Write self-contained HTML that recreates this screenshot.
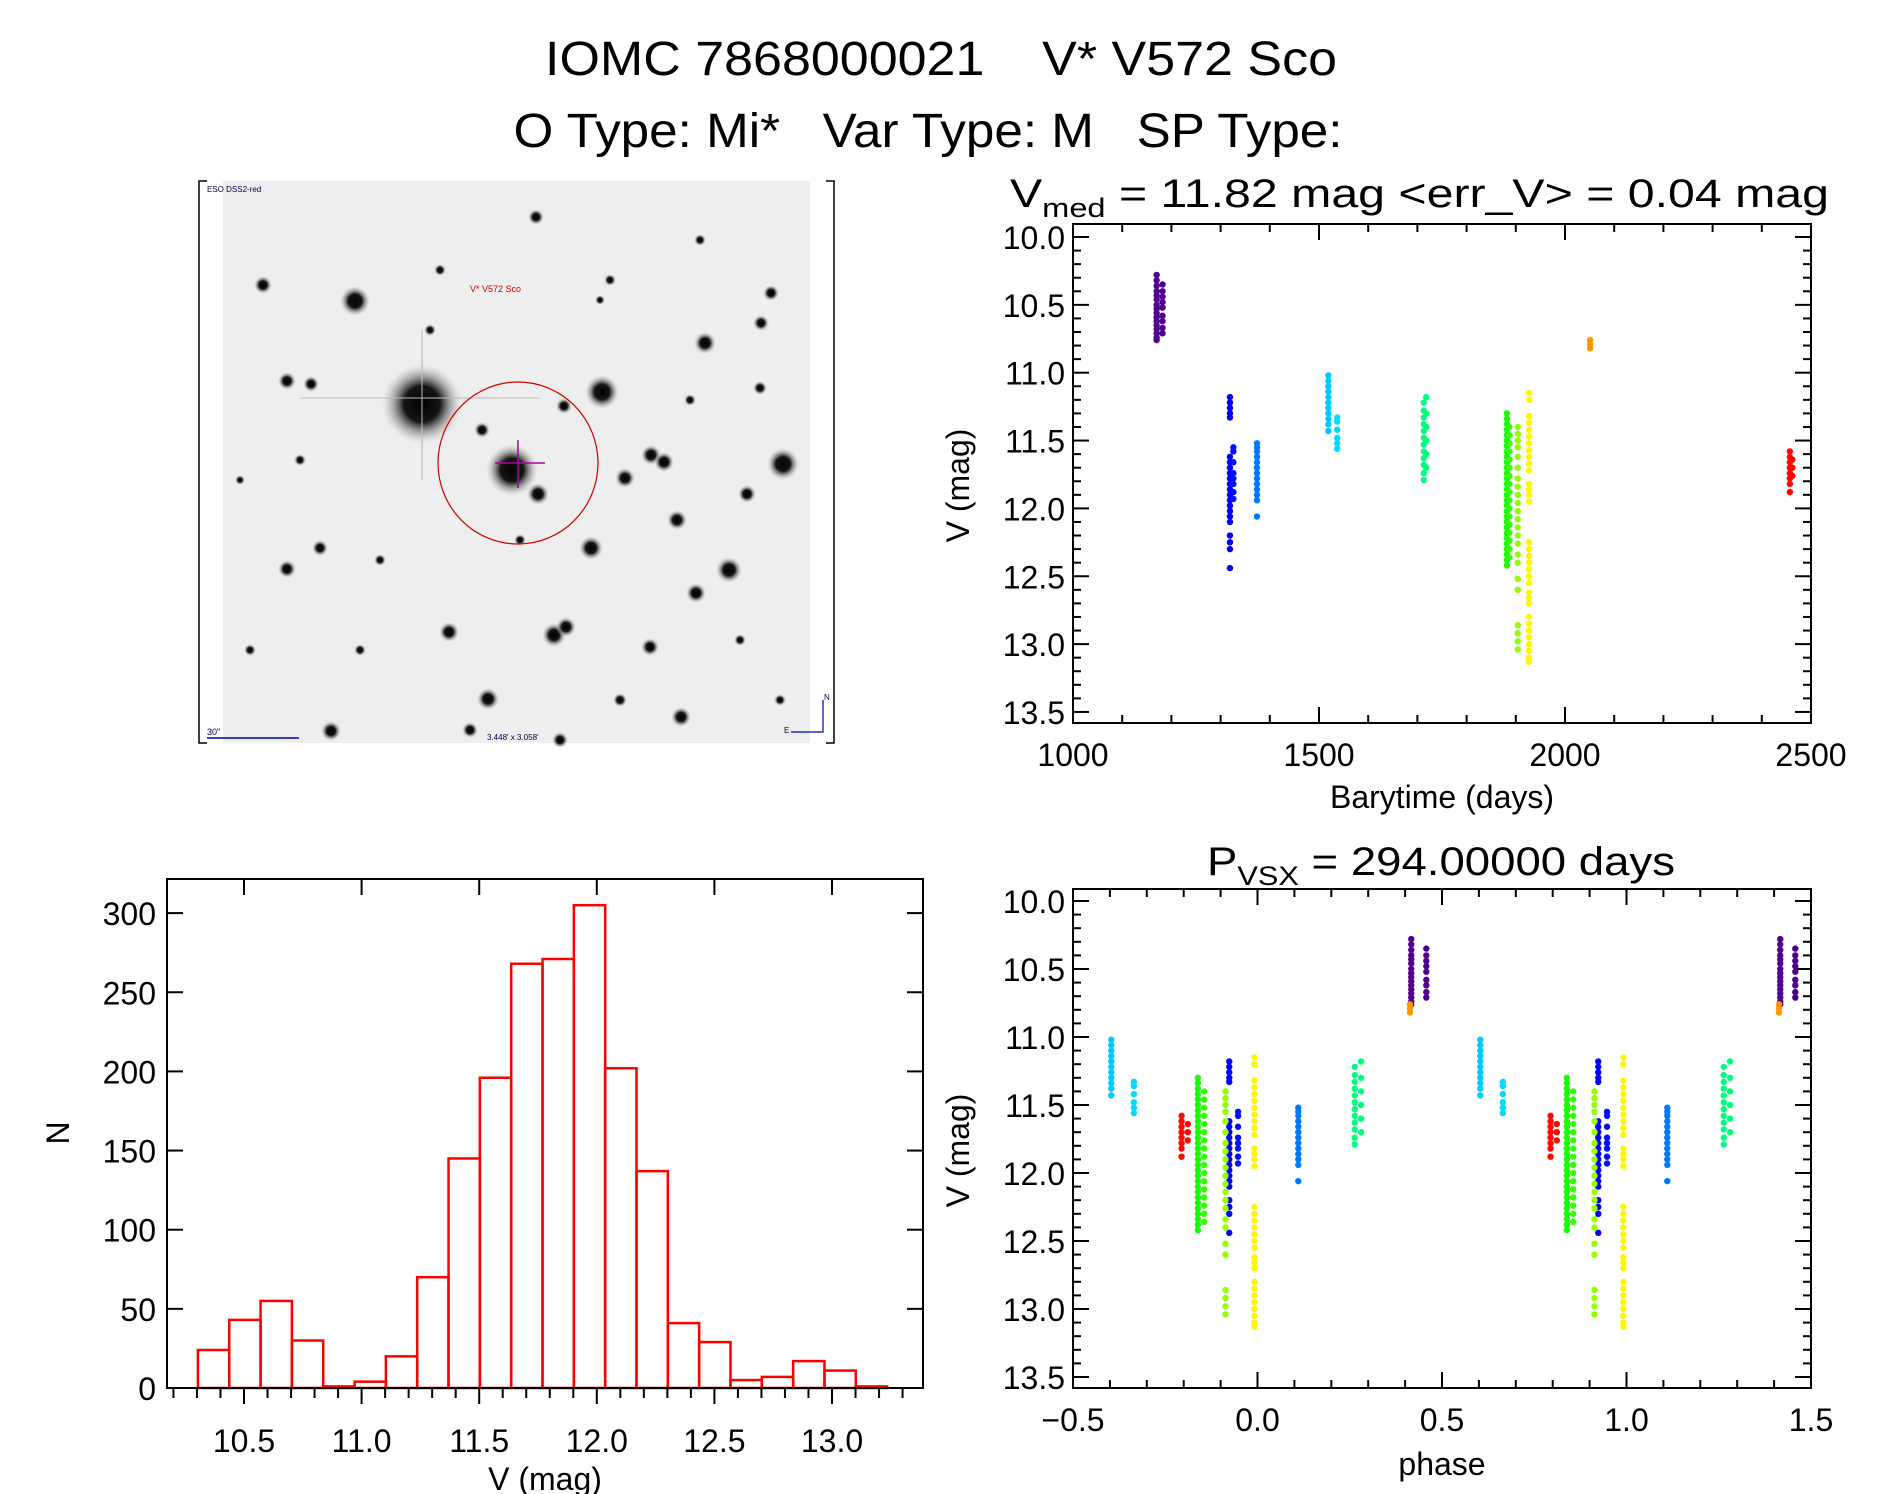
<!DOCTYPE html>
<html><head><meta charset="utf-8"><style>
html,body{margin:0;padding:0;background:#fff;}
svg{display:block;font-family:"Liberation Sans",sans-serif;}
text{white-space:pre;}
</style></head><body>
<svg id="fig" width="1889" height="1494" viewBox="0 0 1889 1494" xmlns="http://www.w3.org/2000/svg" xml:space="preserve">
<defs>
<radialGradient id="star"><stop offset="0" stop-color="#000"/><stop offset="0.45" stop-color="#151515"/><stop offset="1" stop-color="#bbb" stop-opacity="0"/></radialGradient>
</defs>
<text x="941" y="75" font-size="48" text-anchor="middle" textLength="792" lengthAdjust="spacingAndGlyphs">IOMC 7868000021    V* V572 Sco</text>
<text x="928" y="147" font-size="48" text-anchor="middle" textLength="829" lengthAdjust="spacingAndGlyphs">O Type: Mi*   Var Type: M   SP Type:</text>
<g id="img"></g>
<g id="lc"></g>
<g id="ph"></g>
<g id="hist"></g>
</svg>
<script>
// ---- light curve data (barytime days, V mag) ----
const obsTimes = [1170,1182,1319,1326,1374,1519,1537,1713,1718,1882,1887,1904,1927,2051,2457,2462];
const obsMags = [
 [10.28,10.32,10.36,10.40,10.43,10.46,10.50,10.53,10.56,10.59,10.62,10.65,10.68,10.71,10.74,10.76],
 [10.35,10.40,10.44,10.48,10.52,10.58,10.62,10.67,10.71],
 [11.18,11.22,11.26,11.30,11.33,11.62,11.66,11.70,11.74,11.78,11.82,11.86,11.90,11.94,11.98,12.02,12.06,12.10,12.20,12.25,12.30,12.44],
 [11.55,11.58,11.66,11.74,11.78,11.82,11.88,11.93],
 [11.52,11.55,11.58,11.62,11.66,11.70,11.74,11.78,11.82,11.86,11.90,11.94,12.06],
 [11.02,11.06,11.10,11.14,11.18,11.22,11.26,11.30,11.34,11.38,11.43],
 [11.33,11.36,11.42,11.48,11.52,11.56],
 [11.22,11.28,11.33,11.38,11.43,11.48,11.53,11.58,11.63,11.68,11.74,11.79],
 [11.18,11.30,11.40,11.50,11.60,11.70],
 [11.30,11.34,11.38,11.42,11.46,11.50,11.54,11.58,11.62,11.66,11.70,11.74,11.78,11.82,11.86,11.90,11.94,11.98,12.02,12.06,12.10,12.14,12.18,12.22,12.26,12.30,12.34,12.38,12.42],
 [11.40,11.46,11.52,11.58,11.64,11.70,11.76,11.82,11.88,11.94,12.00,12.06,12.12,12.18,12.24,12.30,12.36],
 [11.40,11.45,11.50,11.55,11.62,11.70,11.78,11.84,11.90,11.96,12.02,12.08,12.14,12.20,12.26,12.34,12.40,12.52,12.60,12.86,12.92,12.98,13.04],
 [11.15,11.20,11.32,11.37,11.42,11.47,11.52,11.57,11.62,11.67,11.72,11.82,11.86,11.90,11.95,12.25,12.30,12.35,12.40,12.45,12.50,12.55,12.62,12.66,12.70,12.80,12.85,12.90,12.95,13.00,13.05,13.10,13.13],
 [10.76,10.79,10.82],
 [11.58,11.62,11.66,11.70,11.74,11.78,11.82,11.88],
 [11.64,11.70,11.76]
];
const period = 294.0;
const epoch = 1047.5;
// ---- histogram data ----
const histStart = 10.304;
const histWidth = 0.1332;
const histCounts = [24,43,55,30,1,4,20,70,145,196,268,271,305,202,137,41,29,5,7,17,11,1];
const histYTicks = [0,50,100,150,200,250,300];
const histXTicks = [10.5,11.0,11.5,12.0,12.5,13.0];
const lcXTicks = [1000,1500,2000,2500];
const magTicks = [10.0,10.5,11.0,11.5,12.0,12.5,13.0,13.5];
const phaseTicks = [-0.5,0.0,0.5,1.0,1.5];

const NS="http://www.w3.org/2000/svg";
function el(tag,attrs,parent,txt){const e=document.createElementNS(NS,tag);for(const k in attrs)e.setAttribute(k,attrs[k]);if(txt!==undefined)e.textContent=txt;parent.appendChild(e);return e;}

const hueT=[1170,1319,1374,1520,1713,1882,1904,1927,2051,2457];
const hueV=[275,240,212,192,150,115,85,58,35,2];
function colorFor(t){
  let h=hueV[hueV.length-1];
  for(let i=0;i<hueT.length-1;i++){ if(t<=hueT[i+1]){const f=Math.max(0,(t-hueT[i])/(hueT[i+1]-hueT[i]));h=hueV[i]+f*(hueV[i+1]-hueV[i]);break;} }
  const l = t<1250 ? 28 : 50;
  return `hsl(${h},100%,${l}%)`;
}

function frame(g,x0,y0,x1,y1){
  const r=el('rect',{x:x0,y:y0,width:x1-x0,height:y1-y0,fill:'none',stroke:'#000','stroke-width':2},g);
  
  
}
function tick(g,x1,y1,x2,y2){el('line',{x1:x1,y1:y1,x2:x2,y2:y2,stroke:'#000','stroke-width':2},g);}

function magPanel(g,box,xmin,xmax,xmajor,xminor,xTicks,xfmt,sx,sy,xlabel,xlabelY){
  const [x0,y0,x1,y1]=box;
  frame(g,x0,y0,x1,y1);
  for(let v=xmin;v<=xmax+1e-9;v+=xminor){
    const x=sx(v);const maj=Math.abs(v/xmajor-Math.round(v/xmajor))<1e-6;const L=maj?16:8;
    tick(g,x,y1,x,y1-L);tick(g,x,y0,x,y0+L);
  }
  for(let m=9.9;m<=13.58;m+=0.1){
    const mm=Math.round(m*10)/10;const y=sy(mm);if(y<y0||y>y1)continue;
    const maj=Math.abs(mm*2-Math.round(mm*2))<1e-6;const L=maj?16:8;
    tick(g,x0,y,x0+L,y);tick(g,x1,y,x1-L,y);
  }
  xTicks.forEach(v=>{const t=el('text',{x:sx(v),y:y1+43,'font-size':32,'text-anchor':'middle'},g,xfmt(v));
    
    });
  magTicks.forEach(v=>{const t=el('text',{x:x0-8,y:sy(v)+12,'font-size':32,'text-anchor':'end'},g,v.toFixed(1));
    
    });
  const xl=el('text',{x:(x0+x1)/2,y:xlabelY,'font-size':32,'text-anchor':'middle'},g,xlabel);
  
  
  const yl=el('text',{x:0,y:0,'font-size':32,'text-anchor':'middle',transform:`translate(969,${(y0+y1)/2+12}) rotate(-90)`},g,'V (mag)');
  
  
}

// ---- light curve ----
(function(){
  const g=document.getElementById('lc');
  const sx=t=>1073+(t-1000)*738/1500;
  const sy=m=>237+(m-10)*135.7;
  const tt=el('text',{x:1010,y:207,'font-size':40},g);
  
  
  el('tspan',{},tt,'V');el('tspan',{'font-size':27,dy:10},tt,'med');
  el('tspan',{dy:-10},tt,' = 11.82 mag <err_V> = 0.04 mag');
  tt.setAttribute('textLength','819');tt.setAttribute('lengthAdjust','spacingAndGlyphs');
  magPanel(g,[1073,224,1811,723],1000,2500,500,100,lcXTicks,v=>String(v),sx,sy,'Barytime (days)',808);
  obsTimes.forEach((t,i)=>{obsMags[i].forEach(m=>{
    const c=el('circle',{cx:sx(t),cy:sy(m),r:3.2,fill:colorFor(t)},g);
    
    
  });});
})();

// ---- phase plot ----
(function(){
  const g=document.getElementById('ph');
  const sx=p=>1073+(p+0.5)*738/2;
  const sy=m=>901+(m-10)*136;
  const tt=el('text',{x:1207,y:875,'font-size':40},g);
  
  
  el('tspan',{},tt,'P');el('tspan',{'font-size':27,dy:10},tt,'VSX');
  el('tspan',{dy:-10},tt,' = 294.00000 days');
  tt.setAttribute('textLength','468');tt.setAttribute('lengthAdjust','spacingAndGlyphs');
  magPanel(g,[1073,889,1811,1388],-0.5,1.5,0.5,0.1,phaseTicks,v=>(v<0?'\u22120.5':v.toFixed(1)),sx,sy,'phase',1475);
  obsTimes.forEach((t,i)=>{
    let ph=((t-epoch)/period)%1;if(ph<0)ph+=1;
    [ph-1,ph,ph+1].forEach(p=>{ if(p<-0.5||p>1.5)return;
      obsMags[i].forEach(m=>{
        const c=el('circle',{cx:sx(p),cy:sy(m),r:3.2,fill:colorFor(t)},g);
        
        
      });
    });
  });
})();

// ---- histogram ----
(function(){
  const g=document.getElementById('hist');
  const sx=v=>244+(v-10.5)*235.2;
  const sy=n=>1388-n*1.583;
  const x0=167,y0=879,x1=923,y1=1388;
  histCounts.forEach((n,i)=>{
    const a=sx(histStart+i*histWidth),b=sx(histStart+(i+1)*histWidth);
    const r=el('rect',{x:a,y:sy(n),width:b-a,height:y1-sy(n),fill:'none',stroke:'#f00','stroke-width':2.5},g);
    
    
  });
  frame(g,x0,y0,x1,y1);
  for(let v=10.2;v<=13.35;v+=0.1){const vv=Math.round(v*10)/10;const x=sx(vv);const maj=Math.abs(vv*2-Math.round(vv*2))<1e-6;
    tick(g,x,y1,x,y1+(maj?16:10));
    if(maj)tick(g,x,y0,x,y0+16);}
  histYTicks.forEach(n=>{const y=sy(n);tick(g,x0,y,x0+16,y);tick(g,x1,y,x1-16,y);
    const t=el('text',{x:156,y:y+12,'font-size':32,'text-anchor':'end'},g,String(n));
    
    });
  histXTicks.forEach(v=>{const t=el('text',{x:sx(v),y:1452,'font-size':32,'text-anchor':'middle'},g,v.toFixed(1));
    
    });
  const xl=el('text',{x:545,y:1490,'font-size':32,'text-anchor':'middle'},g,'V (mag)');
  
  
  const yl=el('text',{x:0,y:0,'font-size':32,'text-anchor':'middle',transform:'translate(69,1133) rotate(-90)'},g,'N');
  
  
})();

// ---- sky image ----
(function(){
  const g=document.getElementById('img');
  el('rect',{x:223,y:181,width:587,height:562,fill:'#eeeeee'},g);
  const stars=[[422,404,40],[512,470,26],[602,392,17],[355,301,15],[783,464,16],[729,570,13],[705,343,11],[538,494,11],[651,455,10],[664,462,10],[625,478,10],[677,520,10],[591,548,12],[696,593,10],[449,632,10],[554,635,12],[566,627,10],[650,647,9],[488,699,11],[681,717,10],[331,731,10],[287,569,9],[320,548,8],[263,285,9],[287,381,9],[311,384,8],[536,217,8],[761,323,8],[771,293,8],[747,494,9],[482,430,8],[564,406,8],[760,388,7],[440,270,6],[300,460,6],[250,650,6],[610,280,6],[700,240,6],[520,540,6],[380,560,6],[620,700,7],[740,640,6],[470,730,8],[560,740,8],[780,700,6],[240,480,5],[360,650,6],[690,400,6],[600,300,5],[430,330,6]];
  stars.forEach(s=>{el('circle',{cx:s[0],cy:s[1],r:s[2],fill:'url(#star)'},g);});
  el('line',{x1:300,y1:398,x2:540,y2:398,stroke:'#bbb','stroke-width':2,opacity:0.5},g);
  el('line',{x1:422,y1:330,x2:422,y2:480,stroke:'#bbb','stroke-width':2,opacity:0.5},g);
  el('ellipse',{cx:518,cy:463,rx:80,ry:81,fill:'none',stroke:'#c00','stroke-width':1.2},g);
  el('line',{x1:495,y1:463,x2:545,y2:463,stroke:'#a0a','stroke-width':1.5},g);
  el('line',{x1:518,y1:440,x2:518,y2:488,stroke:'#a0a','stroke-width':1.5},g);
  el('text',{x:470,y:292,'font-size':9,fill:'#c00'},g,'V* V572 Sco');
  el('text',{x:207,y:192,'font-size':8,fill:'#004'},g,'ESO DSS2-red');
  el('text',{x:207,y:735,'font-size':9,fill:'#004'},g,'30"');
  el('line',{x1:207,y1:738,x2:299,y2:738,stroke:'#00a','stroke-width':1.5},g);
  el('text',{x:487,y:740,'font-size':8,fill:'#004'},g,"3.448' x 3.058'");
  el('polyline',{points:'791,732 823,732 823,700',fill:'none',stroke:'#00a','stroke-width':1.2},g);
  el('text',{x:824,y:700,'font-size':8,fill:'#004'},g,'N');
  el('text',{x:784,y:733,'font-size':8,fill:'#004'},g,'E');
  el('polyline',{points:'207,181 199,181 199,743 207,743',fill:'none',stroke:'#000','stroke-width':1.5},g);
  el('polyline',{points:'826,181 834,181 834,743 826,743',fill:'none',stroke:'#000','stroke-width':1.5},g);
})();
</script>
</body></html>
